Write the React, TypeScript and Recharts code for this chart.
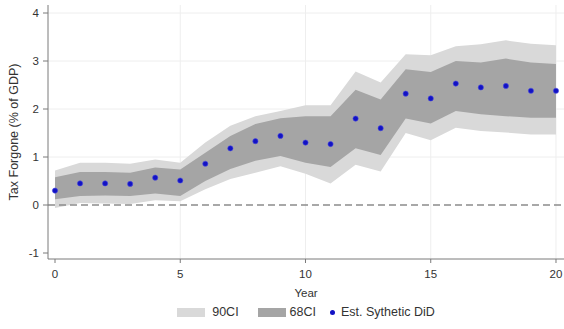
import React from 'react'
import {
    ComposedChart,
    Area,
    Line,
    XAxis,
    YAxis,
    CartesianGrid,
    ReferenceLine,
    Legend,
} from 'recharts'

// years after treatment
const years = [0, 1, 2, 3, 4, 5, 6, 7, 8, 9, 10, 11, 12, 13, 14, 15, 16, 17, 18, 19, 20]

// point estimates (synthetic DiD)
const estimate = [0.30, 0.45, 0.45, 0.44, 0.57, 0.51, 0.86, 1.18, 1.33, 1.44, 1.30, 1.27, 1.80, 1.60, 2.32, 2.22, 2.53, 2.45, 2.48, 2.38, 2.38]

// 68% band
const lower68 = [0.12, 0.19, 0.20, 0.19, 0.24, 0.19, 0.50, 0.75, 0.92, 1.02, 0.88, 0.79, 1.18, 1.04, 1.80, 1.70, 1.96, 1.89, 1.85, 1.82, 1.82]
const upper68 = [0.58, 0.69, 0.69, 0.67, 0.78, 0.74, 1.09, 1.44, 1.69, 1.81, 1.85, 1.85, 2.40, 2.20, 2.83, 2.77, 3.00, 2.97, 3.05, 2.97, 2.94]

// 90% band
const lower90 = [-0.06, 0.04, 0.03, 0.02, 0.10, 0.08, 0.33, 0.54, 0.67, 0.81, 0.65, 0.45, 0.84, 0.70, 1.50, 1.35, 1.61, 1.54, 1.51, 1.47, 1.47]
const upper90 = [0.72, 0.88, 0.88, 0.86, 0.95, 0.88, 1.30, 1.65, 1.85, 1.96, 2.08, 2.08, 2.78, 2.55, 3.14, 3.12, 3.31, 3.35, 3.43, 3.36, 3.33]

const xTicks = [0, 5, 10, 15, 20]
const yTicks = [-1, 0, 1, 2, 3, 4]

const LIGHT = '#d9d9d9'
const DARK = '#a5a5a5'
const DOT = '#1212c4'
const AXIS = '#7a7a7a'
const TEXT = '#333333'
const FONT = '"Liberation Sans", Arial, sans-serif'

const data = years.map((year, i) => ({
    year,
    ci90: [lower90[i], upper90[i]],
    ci68: [lower68[i], upper68[i]],
    est: estimate[i],
}))

function LegendContent() {
    const item: React.CSSProperties = { display: 'flex', alignItems: 'center' }
    return (
        <div style={{ display: 'flex', justifyContent: 'center', alignItems: 'center', height: 22, fontFamily: FONT, fontSize: 12.5, color: TEXT }}>
            <div style={item}>
                <span style={{ width: 28, height: 9, background: LIGHT, marginRight: 7 }} />
                <span>90CI</span>
            </div>
            <div style={{ ...item, marginLeft: 19 }}>
                <span style={{ width: 28, height: 9, background: DARK, marginRight: 4 }} />
                <span>68CI</span>
            </div>
            <div style={{ ...item, marginLeft: 14 }}>
                <span style={{ width: 5, height: 5, borderRadius: 3, background: DOT, marginRight: 6 }} />
                <span>Est. Sythetic DiD</span>
            </div>
        </div>
    )
}

export default function App() {
    if (typeof document !== 'undefined') document.body.style.margin = '0'

    return (
        <div style={{ width: 564, height: 329, background: '#fff' }}>
            <ComposedChart
                width={564}
                height={329}
                data={data}
                margin={{ top: 5, right: 0, bottom: 6, left: 0 }}
            >
                <CartesianGrid
                    stroke="#eeeeee"
                    horizontalValues={[1, 2, 3, 4]}
                    verticalValues={[5, 10, 15, 20]}
                />
                <XAxis
                    dataKey="year"
                    type="number"
                    domain={[-0.28, 20.32]}
                    ticks={xTicks}
                    allowDataOverflow
                    height={42}
                    stroke={AXIS}
                    tickSize={4}
                    tickMargin={7}
                    tick={{ fill: TEXT, fontSize: 11.5, fontFamily: FONT }}
                    label={{ value: 'Year', position: 'insideBottom', offset: 4, fill: TEXT, fontSize: 11.5, fontFamily: FONT }}
                />
                <YAxis
                    type="number"
                    domain={[-1.125, 4.167]}
                    ticks={yTicks}
                    allowDataOverflow
                    width={48}
                    stroke={AXIS}
                    tickSize={5}
                    tickMargin={4}
                    tick={{ fill: TEXT, fontSize: 11.5, fontFamily: FONT }}
                    label={{
                        value: 'Tax Forgone (% of GDP)',
                        angle: -90,
                        position: 'insideLeft',
                        offset: 14,
                        fill: TEXT,
                        fontSize: 12.5,
                        fontFamily: FONT,
                        style: { textAnchor: 'middle' },
                    }}
                />
                <Area
                    dataKey="ci90"
                    type="linear"
                    stroke="none"
                    fill={LIGHT}
                    fillOpacity={1}
                    isAnimationActive={false}
                />
                <Area
                    dataKey="ci68"
                    type="linear"
                    stroke="none"
                    fill={DARK}
                    fillOpacity={1}
                    isAnimationActive={false}
                />
                <ReferenceLine y={0} stroke="#8c8c8c" strokeWidth={1.5} strokeDasharray="7 4" />
                <Line
                    dataKey="est"
                    stroke="none"
                    dot={{ r: 2.6, fill: DOT, stroke: '#4a4ae0', strokeWidth: 0.6 }}
                    activeDot={false}
                    isAnimationActive={false}
                />
                <Legend
                    verticalAlign="bottom"
                    wrapperStyle={{ left: 48, width: 516 }}
                    content={() => <LegendContent />}
                />
            </ComposedChart>
        </div>
    )
}
